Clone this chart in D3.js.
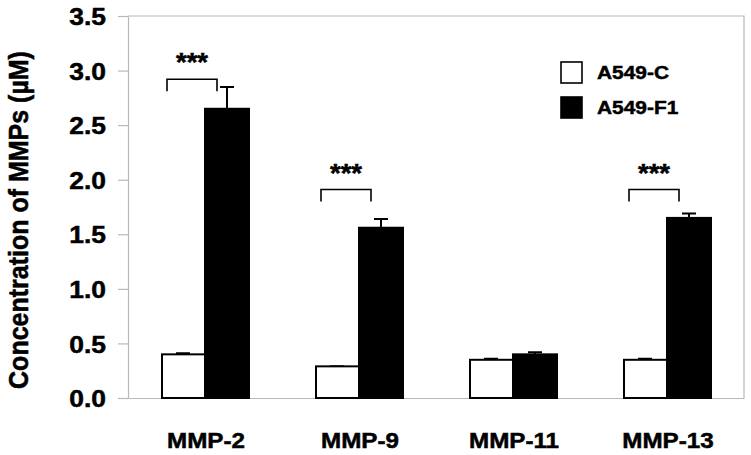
<!DOCTYPE html>
<html>
<head>
<meta charset="utf-8">
<script src="https://cdn.jsdelivr.net/npm/d3@7"></script>
<style>
  html, body { margin: 0; padding: 0; background: #fff; }
  svg { display: block; font-family: "Liberation Sans", Arial, sans-serif; font-weight: bold; }
  svg text { stroke: #000; stroke-width: 0.5px; }
</style>
</head>
<body>
<div id="chart"></div>
<script>
// ---- data ----
const categories = ["MMP-2", "MMP-9", "MMP-11", "MMP-13"];
const seriesNames = ["A549-C", "A549-F1"];
const controlValues = [0.40, 0.29, 0.35, 0.35];
const controlErrors = [0.01, 0.00, 0.01, 0.01];
const f1Values = [2.65, 1.56, 0.40, 1.65];
const f1Errors = [0.20, 0.08, 0.02, 0.04];
const sigLabels = ["***", "***", "", "***"];
const sigLevels = [2.92, 1.91, null, 1.91];
const yTicks = [0, 0.5, 1.0, 1.5, 2.0, 2.5, 3.0, 3.5];
const yLabel = "Concentration of MMPs (\u00b5M)";

// ---- layout ----
const W = 751, H = 455;
const plotL = 128, plotR = 744, plotT = 16, plotB = 398;
const stretch = 1.1;
const gridColor = "#b8b8b8";

const svg = d3.select("#chart").append("svg")
  .attr("width", W).attr("height", H);

const y = d3.scaleLinear().domain([0, 3.5]).range([plotB, plotT]);
const x = d3.scaleBand().domain(categories).range([plotL, plotR])
  .paddingInner(0.4286).paddingOuter(0.2143);
const xs = d3.scaleBand().domain(seriesNames).range([0, x.bandwidth()]);

// frame (top and right)
svg.append("path")
  .attr("d", `M${plotL},${plotT}H${plotR}V${plotB}`)
  .attr("fill", "none").attr("stroke", gridColor).attr("stroke-width", 1.2);

// y axis
const yAxis = svg.append("g")
  .attr("transform", `translate(${plotL},0)`)
  .call(d3.axisLeft(y).tickValues(yTicks).tickFormat(d3.format(".1f"))
    .tickSize(10).tickSizeOuter(0).tickPadding(0));
yAxis.select(".domain").attr("stroke", gridColor).attr("stroke-width", 1.2);
yAxis.selectAll(".tick line").attr("stroke", gridColor).attr("stroke-width", 1.2);
yAxis.selectAll(".tick text")
  .attr("x", -22 / stretch)
  .attr("dy", "0.36em")
  .attr("transform", `scale(${stretch},1)`)
  .attr("fill", "#000")
  .style("font-size", "24px")
  .style("font-weight", "bold")
  .style("font-family", '"Liberation Sans", Arial, sans-serif');

// x axis baseline
const xAxis = svg.append("g")
  .attr("transform", `translate(0,${plotB})`)
  .call(d3.axisBottom(x).tickSize(0).tickSizeOuter(0).tickFormat(""));
xAxis.select(".domain").attr("stroke", gridColor).attr("stroke-width", 1.2);

// x labels
svg.append("g").selectAll("g").data(categories).join("g")
  .attr("transform", d => `translate(${x(d) + x.bandwidth() / 2 + 1},448)`)
  .append("text")
  .attr("text-anchor", "middle")
  .attr("transform", `scale(${stretch},1)`)
  .style("font-size", "22px")
  .text(d => d);

// bars
const rows = categories.map((c, i) => ({
  cat: c,
  vals: [
    { s: seriesNames[0], v: controlValues[i], e: controlErrors[i] },
    { s: seriesNames[1], v: f1Values[i], e: f1Errors[i] }
  ]
}));

const groups = svg.append("g").selectAll("g").data(rows).join("g")
  .attr("transform", d => `translate(${x(d.cat)},0)`);

// error bars (upward only)
groups.selectAll("path.err").data(d => d.vals).join("path")
  .attr("class", "err")
  .attr("d", d => {
    const cx = xs(d.s) + xs.bandwidth() / 2;
    const y0 = y(d.v), y1 = y(d.v + d.e);
    return `M${cx},${y0}V${y1}M${cx - 7},${y1}H${cx + 7}`;
  })
  .attr("stroke", "#000").attr("stroke-width", 2).attr("fill", "none");

groups.selectAll("rect").data(d => d.vals).join("rect")
  .attr("x", d => xs(d.s) + (d.s === seriesNames[0] ? 1 : 0))
  .attr("y", d => y(d.v))
  .attr("width", d => xs.bandwidth() - (d.s === seriesNames[0] ? 1 : 0))
  .attr("height", d => y(0) - y(d.v))
  .attr("fill", d => d.s === seriesNames[0] ? "#fff" : "#000")
  .attr("stroke", "#000").attr("stroke-width", 2);

// significance brackets
const sig = categories.map((c, i) => ({ cat: c, label: sigLabels[i], lvl: sigLevels[i] }))
  .filter(d => d.lvl !== null);
const sg = svg.append("g").selectAll("g").data(sig).join("g")
  .attr("transform", d => `translate(${x(d.cat) + x.bandwidth() / 2 - 13},${y(d.lvl)})`);
sg.append("path")
  .attr("d", "M-25,12V0H25V12")
  .attr("fill", "none").attr("stroke", "#000").attr("stroke-width", 1.6);
sg.append("text")
  .attr("y", -8)
  .attr("text-anchor", "middle")
  .attr("transform", `scale(${stretch},1)`)
  .style("font-size", "25px")
  .text(d => d.label);

// y label
svg.append("text")
  .attr("transform", `translate(28,220) rotate(-90) scale(1,1.12)`)
  .attr("text-anchor", "middle")
  .style("font-size", "25px")
  .text(yLabel);

// legend
const legend = svg.append("g").selectAll("g").data(seriesNames).join("g")
  .attr("transform", (d, i) => `translate(561,${62 + i * 35})`);
legend.append("rect")
  .attr("x", 0).attr("y", 0).attr("width", 21).attr("height", 21)
  .attr("fill", (d, i) => i === 0 ? "#fff" : "#000")
  .attr("stroke", "#000").attr("stroke-width", 1.6);
legend.append("g").attr("transform", "translate(36,17)")
  .append("text")
  .attr("transform", `scale(${stretch},1)`)
  .style("font-size", "19px")
  .text(d => d);
</script>
</body>
</html>
